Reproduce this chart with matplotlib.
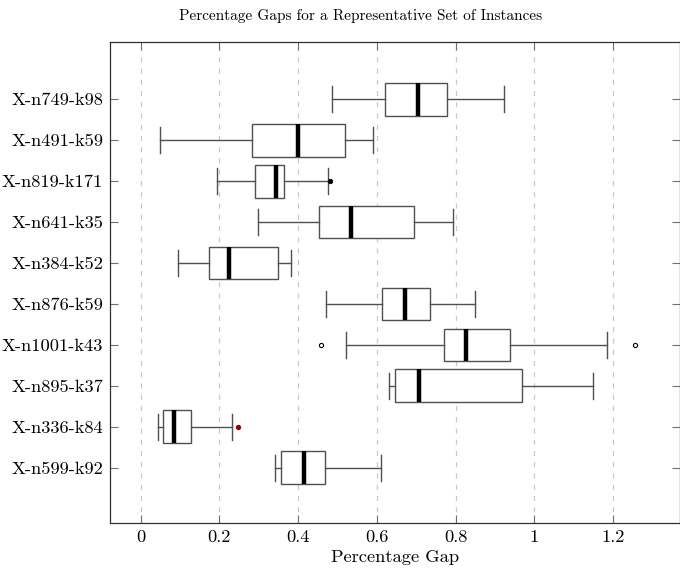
import matplotlib
matplotlib.use('Agg')
import matplotlib.pyplot as plt

plt.rcParams['font.family'] = 'serif'
plt.rcParams['font.serif'] = ['cmr10', 'DejaVu Serif']
plt.rcParams['axes.formatter.use_mathtext'] = True
plt.rcParams['mathtext.fontset'] = 'cm'

# Instances, bottom to top
instances = ['X-n599-k92', 'X-n336-k84', 'X-n895-k37', 'X-n1001-k43', 'X-n876-k59',
             'X-n384-k52', 'X-n641-k35', 'X-n819-k171', 'X-n491-k59', 'X-n749-k98']
whislo = [0.342, 0.043, 0.631, 0.522, 0.470, 0.094, 0.299, 0.193, 0.049, 0.485]
q1     = [0.356, 0.057, 0.647, 0.771, 0.613, 0.174, 0.453, 0.291, 0.283, 0.620]
median = [0.415, 0.085, 0.707, 0.826, 0.672, 0.225, 0.535, 0.344, 0.400, 0.705]
q3     = [0.469, 0.127, 0.968, 0.937, 0.735, 0.348, 0.694, 0.365, 0.519, 0.779]
whishi = [0.611, 0.231, 1.150, 1.185, 0.849, 0.381, 0.793, 0.476, 0.590, 0.922]
outliers = [[], [0.247], [], [0.459, 1.256], [], [], [], [0.480], [], []]

# outlier marker style per instance
flier_style = {
    'X-n819-k171': dict(marker='o', mfc='black', mec='black', ms=3.2),
    'X-n1001-k43': dict(marker='o', mfc='white', mec='black', ms=3.0, mew=0.8),
    'X-n336-k84': dict(marker='o', mfc='#8b0000', mec='#8b0000', ms=3.2),
}

fig = plt.figure(figsize=(6.8, 5.73), dpi=100)
ax = fig.add_axes([0.1618, 0.0873, 0.8382, 0.8394])

stats = []
for i, name in enumerate(instances):
    stats.append(dict(label=name, med=median[i], q1=q1[i], q3=q3[i],
                      whislo=whislo[i], whishi=whishi[i], fliers=outliers[i]))

positions = list(range(1, len(instances) + 1))
edge = '#505050'
res = ax.bxp(stats, positions=positions, vert=False, widths=0.8,
             showfliers=True, patch_artist=True,
             boxprops=dict(facecolor='white', edgecolor=edge, linewidth=1.0),
             whiskerprops=dict(color=edge, linewidth=1.0),
             capprops=dict(color=edge, linewidth=1.0),
             medianprops=dict(color='black', linewidth=3.2, solid_capstyle='butt'),
             capwidths=0.64)

for name, fl in zip(instances, res['fliers']):
    st = flier_style.get(name)
    if st:
        fl.set_linestyle('none')
        fl.set_marker(st['marker'])
        fl.set_markerfacecolor(st['mfc'])
        fl.set_markeredgecolor(st['mec'])
        fl.set_markersize(st['ms'])
        fl.set_markeredgewidth(st.get('mew', 0.6))

ax.set_xlim(-0.078, 1.37)
ax.set_ylim(-0.35, 11.4)
ax.set_xticks([0, 0.2, 0.4, 0.6, 0.8, 1.0, 1.2])
ax.set_xticklabels(['0', '0.2', '0.4', '0.6', '0.8', '1', '1.2'])
ax.set_yticks(positions)
ax.set_yticklabels(instances)

ax.xaxis.grid(True, linestyle=(0, (4, 5)), color='#c8c8c8', linewidth=0.9)
ax.set_axisbelow(True)

ax.tick_params(axis='both', direction='in', length=6, width=0.8, color='#707070',
               labelsize=13.3, pad=5, top=True, right=True)
for s in ax.spines.values():
    s.set_color('#303030')
    s.set_linewidth(0.9)

ax.set_xlabel('Percentage Gap', fontsize=13.3, labelpad=3)
ax.set_title('Percentage Gaps for a Representative Set of Instances', fontsize=11,
             pad=16, x=0.44)

fig.savefig('out.png', dpi=100)
